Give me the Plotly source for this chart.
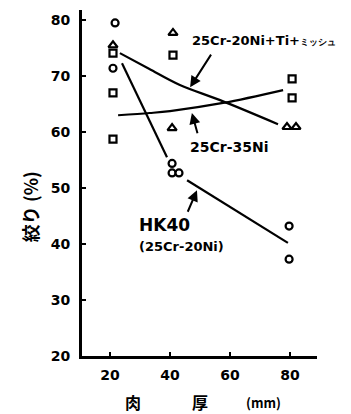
import plotly.graph_objects as go

# Measured points
hk40_x = [21.7, 21.0, 40.7, 40.7, 43.0, 79.7, 79.7]
hk40_y = [79.5, 71.4, 54.4, 52.7, 52.7, 43.2, 37.3]

ti_x = [21.0, 41.0, 40.7, 79.0, 82.0]
ti_y = [75.5, 77.7, 60.7, 60.9, 60.9]

ni35_x = [21.0, 21.0, 21.0, 41.0, 80.7, 80.7]
ni35_y = [74.1, 67.0, 58.75, 73.75, 69.5, 66.1]

# Hand-drawn trend lines
hk40_line_x = [24.0, 39.0, None, 45.7, 79.3]
hk40_line_y = [72.3, 55.5, None, 51.4, 40.2]

ti_line_x = [23.3, 33.0, 43.3, 56.7, 76.0]
ti_line_y = [74.1, 71.3, 68.4, 65.7, 61.4]

ni35_line_x = [22.7, 33.3, 40.0, 57.7, 77.7]
ni35_line_y = [63.0, 63.4, 63.75, 65.2, 67.5]

x_ticks = [20, 40, 60, 80]
y_ticks = [20, 30, 40, 50, 60, 70, 80]

FONT = "DejaVu Sans"
fig = go.Figure()

line_style = dict(color="black", width=2.2)
fig.add_trace(go.Scatter(x=hk40_line_x, y=hk40_line_y, mode="lines", line=line_style, connectgaps=False))
fig.add_trace(go.Scatter(x=ti_line_x, y=ti_line_y, mode="lines", line=dict(color="black", width=2.2, shape="spline")))
fig.add_trace(go.Scatter(x=ni35_line_x, y=ni35_line_y, mode="lines", line=dict(color="black", width=2.2, shape="spline")))

def mk(sym, size=7):
    return dict(symbol=sym, size=size, color="white", line=dict(color="black", width=2.2))

fig.add_trace(go.Scatter(x=hk40_x, y=hk40_y, mode="markers", marker=mk("circle", 7)))
fig.add_trace(go.Scatter(x=ti_x, y=ti_y, mode="markers", marker=mk("triangle-up", 8)))
fig.add_trace(go.Scatter(x=ni35_x, y=ni35_y, mode="markers", marker=mk("square", 7)))

ann = []
def text(x, y, s, size, xanchor="center", xref="x"):
    ann.append(dict(x=x, y=y, xref=xref, yref="y", text=s, showarrow=False, xanchor=xanchor,
                    yanchor="middle", font=dict(family=FONT, size=size, color="black", weight="bold")))

def arrow(tx, ty, hx, hy):
    ann.append(dict(x=hx, y=hy, ax=tx, ay=ty, xref="x", yref="y", axref="x", ayref="y", text="",
                    showarrow=True, arrowhead=2, arrowsize=1.1, arrowwidth=2, arrowcolor="black"))

text(46.7, 76.3, "25Cr-20Ni+Ti+<span style='font-size:9px'>ミッシュ</span>", 13, xanchor="left")
arrow(54.0, 74.1, 46.7, 68.0)
text(59.7, 57.3, "25Cr-35Ni", 14)
arrow(49.3, 59.5, 47.3, 63.4)
text(38.3, 43.4, "HK40", 17)
text(43.8, 39.5, "(25Cr-20Ni)", 13)
arrow(45.7, 45.5, 49.0, 49.6)

# axis titles
ann.append(dict(x=-0.221, y=46.6, xref="paper", yref="y", text="絞り (%)", textangle=-90, showarrow=False,
                xanchor="center", yanchor="middle",
                font=dict(family="Noto Sans CJK JP", size=18, color="black", weight="bold")))
for xv, s in [(27.7, "肉"), (50.0, "厚"), (71.3, "(mm)")]:
    ann.append(dict(x=xv, y=-0.133, xref="x", yref="paper", text=s, showarrow=False,
                    xanchor="center", yanchor="middle",
                    font=dict(family="Noto Sans CJK JP", size=16 if s != "(mm)" else 13, color="black", weight="bold")))

# margins compensate for the 8px default body margin of the page
fig.update_layout(
    width=351, height=414,
    margin=dict(l=74, r=42, t=2, b=66, autoexpand=False),
    paper_bgcolor="white", plot_bgcolor="white",
    showlegend=False,
    annotations=ann,
    font=dict(family=FONT, color="black"),
)
fig.update_xaxes(range=[10.67, 89.0], tickvals=x_ticks, showgrid=False, zeroline=False, automargin=False,
                 showline=True, linecolor="black", linewidth=3, ticks="inside", ticklen=4, tickwidth=2,
                 tickcolor="black", tickfont=dict(family=FONT, size=14, color="black", weight="bold"),
                 ticklabelstandoff=4)
fig.update_yaxes(range=[20, 81.8], tickvals=y_ticks, showgrid=False, zeroline=False, automargin=False,
                 showline=True, linecolor="black", linewidth=3, ticks="inside", ticklen=4, tickwidth=2,
                 tickcolor="black", tickfont=dict(family=FONT, size=14, color="black", weight="bold"),
                 ticklabelstandoff=6)

fig.write_html("out.html")
